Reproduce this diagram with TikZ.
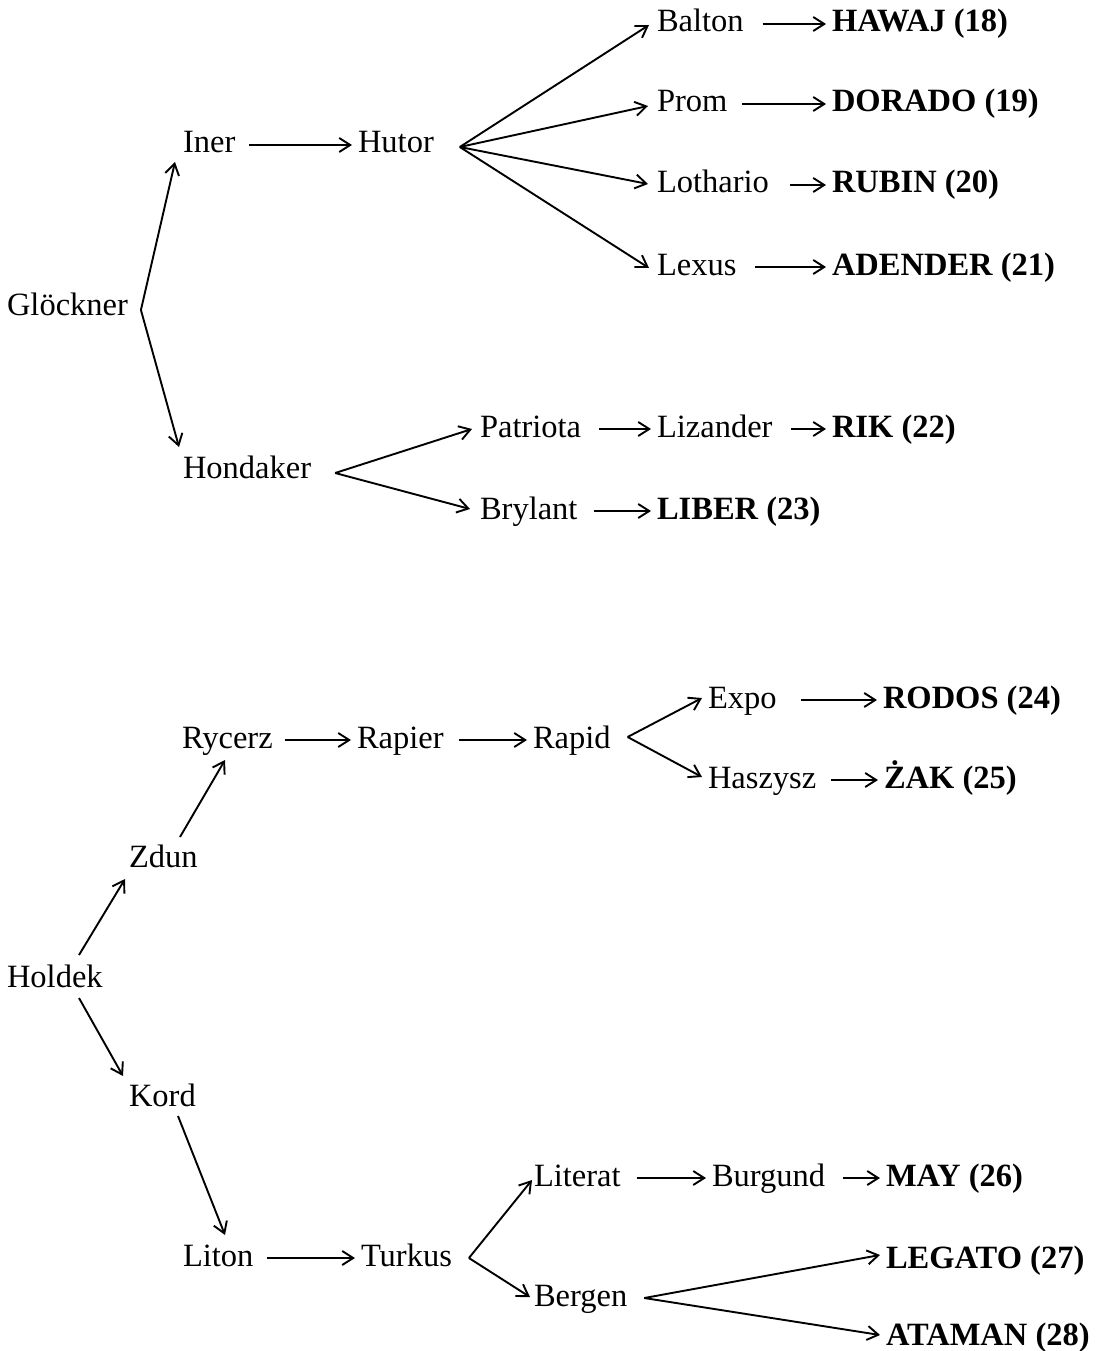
\documentclass[tikz,border=0pt]{standalone}
\usepackage{fontspec}
\setmainfont{Liberation Serif}
\usetikzlibrary{arrows.meta}
\newcommand\hconn[3]{\draw[arr] ([shift={(#1,-8)}]#2.base east) -- ([shift={(-6,-8)}]#3.base west);}
\begin{document}
\begin{tikzpicture}[x=1pt,y=-1pt,
  lbl/.style={anchor=base west,inner sep=0pt,outer sep=0pt,font=\fontsize{32.5}{38}\selectfont},
  res/.style={lbl,font=\fontsize{32.5}{38}\selectfont\bfseries},
  arr/.style={line width=1.9pt,-{Straight Barb[length=11pt,width=14pt,line width=1.9pt]}}
]
\useasboundingbox (0,0) rectangle (1099,1351);

% ---------- top tree ----------
\node[lbl] (gl) at (7,315) {Glöckner};
\node[lbl] (iner) at (183,153) {Iner};
\node[lbl] (hutor) at (358,153) {Hutor};
\node[lbl] (balton) at (657,32) {Balton};
\node[lbl] (prom) at (657,112) {Prom};
\node[lbl] (loth) at (657,193) {Lothario};
\node[lbl] (lexus) at (657,275) {Lexus};
\node[res] (hawaj) at (832,32) {HAWAJ (18)};
\node[res] (dorado) at (832,112) {DORADO (19)};
\node[res] (rubin) at (832,193) {RUBIN (20)};
\node[res] (adender) at (832,275) {ADENDER (21)};
\node[lbl] (hond) at (183,478) {Hondaker};
\node[lbl] (patr) at (480,437) {Patriota};
\node[lbl] (liz) at (657,437) {Lizander};
\node[res] (rik) at (832,437) {RIK (22)};
\node[lbl] (bryl) at (480,519) {Brylant};
\node[res] (liber) at (657,519) {LIBER (23)};

\coordinate (gv) at ([shift={(13,-5)}]gl.base east);
\draw[arr] (gv) -- ([shift={(-8,9)}]iner.base west);
\draw[arr] (gv) -- ([shift={(-4,-31)}]hond.base west);

\hconn{14}{iner}{hutor}

\coordinate (hv) at ([shift={(26,-6)}]hutor.base east);
\draw[arr] (hv) -- ([shift={(-8,-7)}]balton.base west);
\draw[arr] (hv) -- ([shift={(-9,-6)}]prom.base west);
\draw[arr] (hv) -- ([shift={(-9,-9)}]loth.base west);
\draw[arr] (hv) -- ([shift={(-8,-7)}]lexus.base west);

\hconn{19}{balton}{hawaj}
\hconn{15}{prom}{dorado}
\hconn{21}{loth}{rubin}
\hconn{19}{lexus}{adender}

\coordinate (hdv) at ([shift={(24,-5)}]hond.base east);
\draw[arr] (hdv) -- ([shift={(-8,-8)}]patr.base west);
\draw[arr] (hdv) -- ([shift={(-10,-10)}]bryl.base west);

\hconn{18}{patr}{liz}
\hconn{19}{liz}{rik}
\hconn{17}{bryl}{liber}

% ---------- bottom tree ----------
\node[lbl] (ryc) at (182,748) {Rycerz};
\node[lbl] (rapier) at (357,748) {Rapier};
\node[lbl] (rapid) at (533,748) {Rapid};
\node[lbl] (expo) at (708,708) {Expo};
\node[lbl] (hasz) at (708,788) {Haszysz};
\node[res] (rodos) at (883,708) {RODOS (24)};
\node[res] (zak) at (884,788) {ŻAK (25)};
\node[lbl] (zdun) at (129,867) {Zdun};
\node[lbl] (holdek) at (7,987) {Holdek};
\node[lbl] (kord) at (129,1106) {Kord};
\node[lbl] (liton) at (183,1266) {Liton};
\node[lbl] (turkus) at (361,1266) {Turkus};
\node[lbl] (literat) at (534,1186) {Literat};
\node[lbl] (burgund) at (712,1186) {Burgund};
\node[res] (may) at (886,1186) {MAY (26)};
\node[lbl] (bergen) at (534,1306) {Bergen};
\node[res] (legato) at (886,1268) {LEGATO (27)};
\node[res] (ataman) at (886,1345) {ATAMAN (28)};

\draw[arr] ([shift={(72,-32)}]holdek.base west) -- ([shift={(-4,12)}]zdun.base west);
\draw[arr] ([shift={(51,-30)}]zdun.base west) -- ([shift={(43,12)}]ryc.base west);
\draw[arr] ([shift={(72,11)}]holdek.base west) -- ([shift={(-6,-30)}]kord.base west);
\draw[arr] ([shift={(49,10)}]kord.base west) -- ([shift={(42,-31)}]liton.base west);

\hconn{12}{ryc}{rapier}
\hconn{15}{rapier}{rapid}

\coordinate (rv) at ([shift={(17,-11)}]rapid.base east);
\draw[arr] (rv) -- ([shift={(-6,-10)}]expo.base west);
\draw[arr] (rv) -- ([shift={(-6,-11)}]hasz.base west);

\hconn{24}{expo}{rodos}
\hconn{15}{hasz}{zak}

\hconn{14}{liton}{turkus}

\coordinate (tv) at ([shift={(17,-8)}]turkus.base east);
\draw[arr] (tv) -- ([shift={(-2,-6)}]literat.base west);
\draw[arr] (tv) -- ([shift={(-4,-9)}]bergen.base west);

\hconn{16}{literat}{burgund}
\hconn{18}{burgund}{may}

\coordinate (bv) at ([shift={(17,-8)}]bergen.base east);
\draw[arr] (bv) -- ([shift={(-6,-13)}]legato.base west);
\draw[arr] (bv) -- ([shift={(-6,-10)}]ataman.base west);
\end{tikzpicture}
\end{document}
